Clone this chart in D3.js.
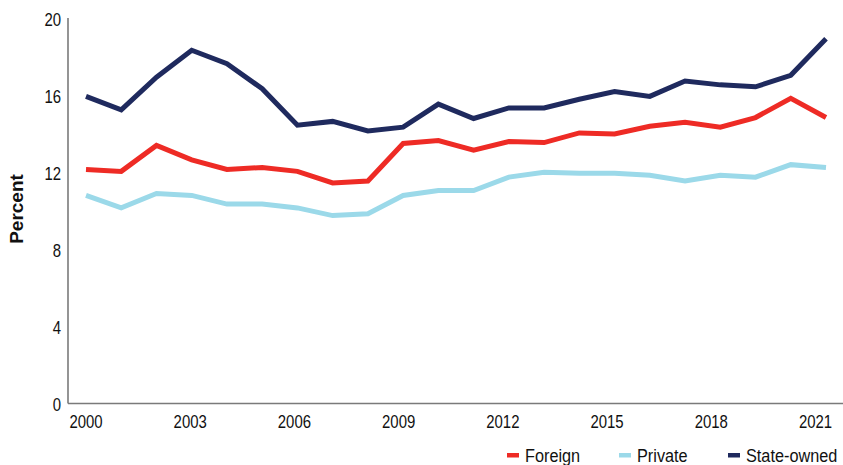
<!DOCTYPE html>
<html>
<head>
<meta charset="utf-8">
<script src="https://cdn.jsdelivr.net/npm/d3@7"></script>
<style>
  html, body { margin: 0; padding: 0; background: #fff; }
  svg { display: block; }
  .tick-label { font-family: "Liberation Sans", Arial, sans-serif; font-size: 18px; fill: #111; }
  .legend-label { font-family: "Liberation Sans", Arial, sans-serif; font-size: 18.5px; fill: #111; }
  .axis-title { font-family: "Liberation Sans", Arial, sans-serif; font-size: 19px; font-weight: bold; fill: #111; }
</style>
</head>
<body>
<svg id="chart" width="843" height="465"></svg>
<script>
// Share of firms, by ownership type, 2000-2021 (percent)
const years = [2000, 2001, 2002, 2003, 2004, 2005, 2006, 2007, 2008, 2009, 2010,
               2011, 2012, 2013, 2014, 2015, 2016, 2017, 2018, 2019, 2020, 2021];
const foreign = [12.2, 12.1, 13.45, 12.7, 12.2, 12.3, 12.1, 11.5, 11.6, 13.55, 13.7,
                 13.2, 13.65, 13.6, 14.1, 14.05, 14.45, 14.65, 14.4, 14.9, 15.9, 14.9];
const privateOwned = [10.85, 10.2, 10.95, 10.85, 10.4, 10.4, 10.2, 9.8, 9.9, 10.85, 11.1,
                      11.1, 11.8, 12.05, 12.0, 12.0, 11.9, 11.6, 11.9, 11.8, 12.45, 12.3];
const stateOwned = [16.0, 15.3, 17.0, 18.4, 17.7, 16.4, 14.5, 14.7, 14.2, 14.4, 15.6,
                    14.85, 15.4, 15.4, 15.85, 16.25, 16.0, 16.8, 16.6, 16.5, 17.1, 19.0];
const yTicks = [0, 4, 8, 12, 16, 20];
const xTickYears = [2000, 2003, 2006, 2009, 2012, 2015, 2018, 2021];
const seriesNames = ["Foreign", "Private", "State-owned"];
const seriesColors = ["#ee2b25", "#9bd9e9", "#1f2a5e"];

const series = [
  { name: seriesNames[0], color: seriesColors[0], values: foreign },
  { name: seriesNames[1], color: seriesColors[1], values: privateOwned },
  { name: seriesNames[2], color: seriesColors[2], values: stateOwned }
];

// condensed look for labels: horizontal squeeze about each text's anchor
const NARROW = "scale(0.83,1)";
const NARROW_LEGEND = "scale(0.88,1)";

const svg = d3.select("#chart");
const W = 843;
const axisX = 68, axisY = 403.5;

const x = d3.scaleLinear().domain([2000, 2021]).range([86, 826]);
const xLabels = d3.scaleLinear().domain([2000, 2021]).range([85.5, 815]);
const y = d3.scaleLinear().domain([0, 20]).range([404, 19.5]);

// y axis: labels only, then a plain vertical rule
const yAxis = d3.axisLeft(y).tickValues(yTicks).tickSize(0).tickPadding(0).tickFormat(d3.format("d"));
const gy = svg.append("g").attr("transform", "translate(61,0)").call(yAxis);
gy.select(".domain").remove();
gy.selectAll("text").attr("class", "tick-label").attr("dy", "0.35em").attr("x", 0)
  .attr("transform", NARROW);

svg.append("line")
  .attr("x1", axisX).attr("x2", axisX)
  .attr("y1", 18).attr("y2", axisY)
  .attr("stroke", "#7a7a7a").attr("stroke-width", 1.6);

// x axis: horizontal rule running to the right edge, with year labels
svg.append("line")
  .attr("x1", axisX).attr("x2", W)
  .attr("y1", axisY).attr("y2", axisY)
  .attr("stroke", "#7a7a7a").attr("stroke-width", 1.6);

const xAxis = d3.axisBottom(xLabels).tickValues(xTickYears).tickSize(0).tickPadding(0).tickFormat(d3.format("d"));
const gx = svg.append("g").attr("transform", "translate(0,428)").call(xAxis);
gx.select(".domain").remove();
gx.selectAll("text").attr("class", "tick-label").attr("dy", 0).attr("y", 0)
  .attr("transform", NARROW);

// axis title
svg.append("text")
  .attr("class", "axis-title")
  .attr("transform", "translate(23,209) rotate(-90)")
  .attr("text-anchor", "middle")
  .text("Percent");

// series lines
const line = d3.line()
  .x((d, i) => x(years[i]))
  .y(d => y(d));

svg.append("g").selectAll("path")
  .data(series)
  .join("path")
  .attr("d", d => line(d.values))
  .attr("fill", "none")
  .attr("stroke", d => d.color)
  .attr("stroke-width", 5)
  .attr("stroke-linejoin", "miter")
  .attr("stroke-linecap", "butt");

// legend
const legendX = [507, 619, 728];
const legend = svg.append("g").selectAll("g")
  .data(series)
  .join("g")
  .attr("transform", (d, i) => `translate(${legendX[i]},455)`);

legend.append("rect")
  .attr("x", 0).attr("y", -2).attr("width", 12).attr("height", 4.5)
  .attr("fill", d => d.color);

legend.append("g")
  .attr("transform", `translate(18,7) ${NARROW_LEGEND}`)
  .append("text")
  .attr("class", "legend-label")
  .text(d => d.name);
</script>
</body>
</html>
